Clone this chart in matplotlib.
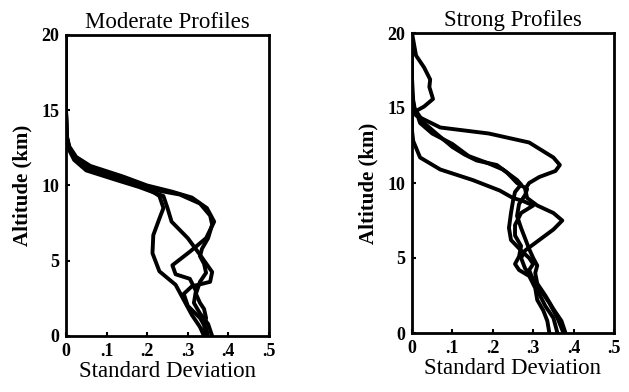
import matplotlib
matplotlib.use("Agg")
import matplotlib.pyplot as plt

plt.rcParams['font.family'] = ['Liberation Serif', 'DejaVu Serif']

# Moderate profiles: (std dev, altitude km) pairs
mod_1 = [(0.0, 20), (0.0, 15), (0.002, 13.2), (0.008, 12.5), (0.025, 11.8), (0.06, 11.1), (0.13, 10.5),
         (0.19, 10), (0.23, 9.3), (0.24, 8.5), (0.23, 7.8), (0.215, 6.7), (0.213, 5.5), (0.23, 4.3),
         (0.27, 3.4), (0.29, 2.4), (0.31, 1.4), (0.33, 0.6), (0.34, 0)]
mod_2 = [(0.0, 20), (0.0, 15), (0.002, 13.3), (0.008, 12.6), (0.025, 11.9), (0.06, 11.3), (0.14, 10.6),
         (0.2, 10), (0.26, 9.6), (0.31, 9.2), (0.347, 8.5), (0.365, 7.6), (0.345, 6.5), (0.305, 5.6),
         (0.262, 4.7), (0.27, 4.1), (0.305, 3.8), (0.32, 3.0), (0.315, 2.2), (0.33, 1.5),
         (0.35, 0.8), (0.36, 0)]
mod_3 = [(0.0, 20), (0.0, 15), (0.002, 13.1), (0.007, 12.4), (0.02, 11.7), (0.05, 11.0), (0.12, 10.4),
         (0.18, 9.9), (0.24, 9.3), (0.25, 8.5), (0.26, 7.6), (0.30, 6.5), (0.33, 5.4), (0.36, 4.25),
         (0.355, 3.6), (0.31, 3.3), (0.29, 2.8), (0.3, 2.0), (0.33, 1.2), (0.345, 0.5), (0.35, 0)]
mod_4 = [(0.0, 20), (0.0, 15), (0.002, 13.2), (0.008, 12.5), (0.022, 11.8), (0.055, 11.1), (0.13, 10.5),
         (0.2, 9.8), (0.28, 9.4), (0.33, 8.8), (0.355, 8.0), (0.36, 7.4), (0.35, 6.5), (0.335, 5.8),
         (0.33, 5.3), (0.34, 4.8), (0.345, 4.2), (0.33, 3.6), (0.32, 2.8), (0.33, 2.2),
         (0.34, 1.8), (0.345, 1.2), (0.34, 0.5), (0.345, 0)]

# Strong profiles
str_1 = [(0.0, 20), (0.0, 17), (0.003, 15.5), (0.01, 14.5), (0.07, 13.7), (0.19, 13.3), (0.29, 12.7),
         (0.35, 11.7), (0.366, 11.2), (0.355, 10.8), (0.315, 10.4), (0.29, 10.0), (0.28, 9.6),
         (0.285, 9.0), (0.31, 8.5), (0.35, 8.0), (0.372, 7.5), (0.35, 6.9), (0.31, 6.1),
         (0.28, 5.5), (0.27, 5.0), (0.28, 4.3), (0.3, 3.6), (0.32, 2.8), (0.34, 2.0),
         (0.36, 1.0), (0.375, 0.0)]
str_2 = [(0.0, 20), (0.01, 18.5), (0.03, 17.7), (0.045, 16.9), (0.043, 16.4), (0.052, 15.6),
         (0.03, 15.1), (0.01, 14.8), (0.02, 14.0), (0.05, 13.3), (0.1, 12.6), (0.14, 11.8),
         (0.19, 11.3), (0.225, 10.9), (0.26, 10.2), (0.27, 9.9), (0.255, 9.4), (0.25, 8.8),
         (0.245, 8.0), (0.24, 7.0), (0.245, 6.2), (0.27, 5.5), (0.29, 5.0), (0.3, 4.6),
         (0.29, 4.2), (0.3, 3.5), (0.315, 2.6), (0.33, 1.8), (0.35, 1.0), (0.36, 0.0)]
str_3 = [(0.0, 20), (0.0, 15), (0.0, 13.5), (0.003, 12.8), (0.02, 11.7), (0.07, 10.9), (0.15, 10.2),
         (0.217, 9.5), (0.25, 9.0), (0.275, 8.8), (0.3, 8.5), (0.27, 8.0), (0.255, 7.2),
         (0.255, 6.5), (0.27, 5.8), (0.265, 5.1), (0.255, 4.6), (0.265, 4.2), (0.29, 3.8),
         (0.305, 3.0), (0.31, 2.2), (0.325, 1.5), (0.335, 0.8), (0.34, 0.0)]
str_4 = [(0.0, 20), (0.0, 16), (0.005, 15), (0.03, 14), (0.06, 13.3), (0.1, 12.4), (0.13, 11.9),
         (0.16, 11.5), (0.21, 11.2), (0.235, 10.7), (0.26, 10.0), (0.285, 9.6), (0.28, 9.2),
         (0.265, 8.6), (0.26, 7.8), (0.27, 7.0), (0.28, 6.3), (0.29, 5.6), (0.3, 5.0),
         (0.31, 4.5), (0.305, 4.0), (0.31, 3.3), (0.33, 2.5), (0.35, 1.6), (0.37, 0.8), (0.38, 0.0)]

x_ticks = [0, 0.1, 0.2, 0.3, 0.4, 0.5]
x_labels = ['0', '.1', '.2', '.3', '.4', '.5']
y_ticks = [0, 5, 10, 15, 20]

fig = plt.figure(figsize=(6.29, 3.92), dpi=100)
ax1 = fig.add_axes([66 / 629, 1 - 336 / 392, 203 / 629, 301 / 392])
ax2 = fig.add_axes([412 / 629, 1 - 333 / 392, 202 / 629, 300 / 392])

panels = [(ax1, 'Moderate Profiles', [mod_1, mod_2, mod_3, mod_4]),
          (ax2, 'Strong Profiles', [str_1, str_2, str_3, str_4])]

for ax, title, curves in panels:
    for c in curves:
        xs = [p[0] for p in c]
        ys = [p[1] for p in c]
        ax.plot(xs, ys, color='black', lw=2.8, solid_joinstyle='round', solid_capstyle='round')
    ax.set_xlim(0, 0.5)
    ax.set_ylim(0, 20)
    ax.set_xticks(x_ticks)
    ax.set_xticklabels(x_labels, fontsize=13, fontweight='bold')
    ax.set_yticks(y_ticks)
    ax.set_yticklabels([str(t) for t in y_ticks], fontsize=13, fontweight='bold')
    ax.tick_params(direction='in', length=3, width=1.5, pad=5)
    for s in ax.spines.values():
        s.set_linewidth(2)
    ax.set_title(title, fontsize=16.5, pad=5)
    ax.set_xlabel('Standard Deviation', fontsize=16.5, labelpad=1)
    ax.set_ylabel('Altitude (km)', fontsize=15, fontweight='bold', labelpad=6)

fig.savefig('out.png', dpi=100)
